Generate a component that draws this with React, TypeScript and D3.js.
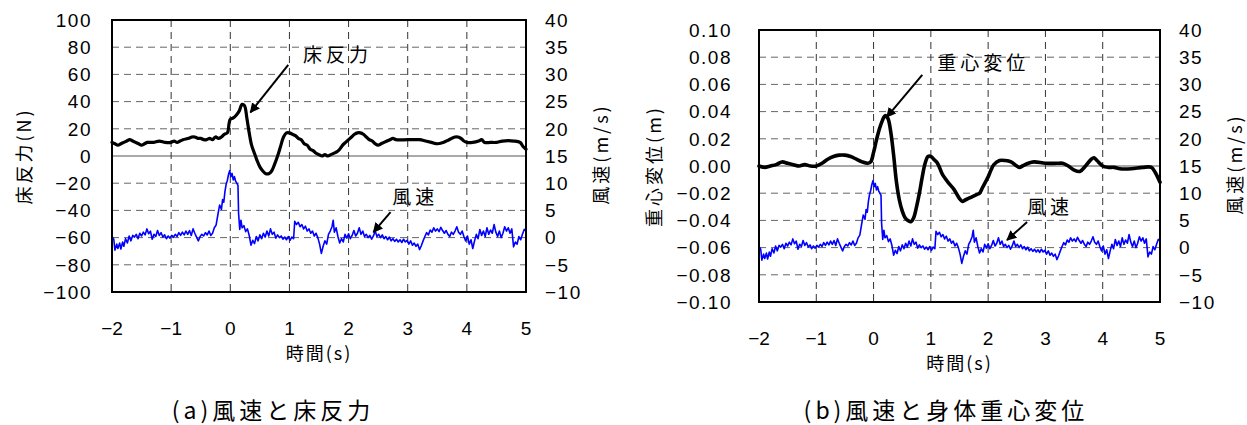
import React from 'react'
import * as d3 from 'd3'

// time axis (s)
const timeTicks = [-2, -1, 0, 1, 2, 3, 4, 5]

// wind speed (m/s), same record used in both panels
const windSeries: [number, number][] = [
  [-2.0, 0.2], [-1.97, -0.3], [-1.95, -2.3], [-1.92, -1.2], [-1.9, -2.0], [-1.87, -1.0], [-1.85, -2.1],
  [-1.82, -0.8], [-1.8, -1.6], [-1.77, -0.2], [-1.74, -1.0], [-1.71, 0.3], [-1.68, -0.6], [-1.65, 0.4],
  [-1.62, 0.1], [-1.59, 0.6], [-1.56, -0.2], [-1.53, 0.8], [-1.5, 0.3], [-1.47, 1.0], [-1.44, 0.5],
  [-1.41, 1.6], [-1.38, 0.7], [-1.35, 1.2], [-1.32, -0.3], [-1.29, 0.6], [-1.26, 0.2], [-1.23, 1.3],
  [-1.2, 0.4], [-1.17, 0.9], [-1.14, 0.1], [-1.11, 0.5], [-1.08, -0.2], [-1.05, 0.3], [-1.02, -0.1],
  [-0.99, 0.4], [-0.96, 0.1], [-0.93, 0.6], [-0.9, 0.2], [-0.87, 0.9], [-0.84, 0.4], [-0.81, 1.0],
  [-0.78, 0.5], [-0.75, 1.2], [-0.72, 0.6], [-0.69, 1.3], [-0.66, 0.4], [-0.63, 1.6], [-0.6, 0.8],
  [-0.57, 0.1], [-0.54, -0.6], [-0.51, 0.2], [-0.48, 0.6], [-0.45, 0.3], [-0.42, 0.9], [-0.39, 0.5],
  [-0.36, 1.2], [-0.33, 0.4], [-0.3, 0.8], [-0.27, 1.8], [-0.24, 2.3], [-0.21, 4.2], [-0.18, 6.0],
  [-0.15, 5.2], [-0.13, 7.0], [-0.11, 6.5], [-0.09, 8.5], [-0.07, 9.8], [-0.05, 10.5], [-0.03, 11.6],
  [-0.01, 12.3], [0.01, 11.2], [0.03, 11.8], [0.05, 10.6], [0.07, 11.2], [0.09, 10.4], [0.11, 10.0],
  [0.13, 9.6], [0.14, 4.5], [0.16, 1.5], [0.18, 3.2], [0.2, 1.8], [0.23, 2.2], [0.26, 1.1], [0.29, 1.6],
  [0.32, 0.4], [0.35, -1.4], [0.38, -0.5], [0.41, -1.1], [0.44, 0.2], [0.47, -0.6], [0.5, 0.5],
  [0.53, -0.2], [0.56, 0.8], [0.59, 0.1], [0.62, 1.2], [0.65, 0.3], [0.68, 1.6], [0.71, 0.6], [0.74, 1.0],
  [0.77, -0.1], [0.8, 0.5], [0.83, 0.0], [0.86, 0.3], [0.89, -0.3], [0.92, 0.1], [0.95, -0.4], [0.98, 0.2],
  [1.01, -0.5], [1.04, 0.1], [1.07, -0.2], [1.09, 3.0], [1.12, 2.4], [1.15, 2.8], [1.18, 2.0], [1.21, 2.4],
  [1.24, 1.6], [1.27, 2.1], [1.3, 1.2], [1.33, 1.6], [1.36, 0.8], [1.39, 1.2], [1.42, 0.3], [1.45, 0.8],
  [1.48, 0.0], [1.51, -1.2], [1.54, -2.9], [1.57, -1.6], [1.6, -0.6], [1.63, -1.2], [1.66, 0.6], [1.69, 1.2],
  [1.72, 2.0], [1.74, 3.2], [1.76, 1.0], [1.79, 1.8], [1.82, 0.2], [1.85, -1.0], [1.88, -0.2], [1.91, -0.8],
  [1.94, 0.6], [1.97, -0.1], [2.0, 0.7], [2.03, -0.2], [2.06, 0.4], [2.09, 1.3], [2.12, 0.3], [2.15, 0.8],
  [2.18, 1.8], [2.21, 0.6], [2.24, 1.2], [2.27, 0.2], [2.3, 0.6], [2.33, 0.0], [2.36, 0.4], [2.39, -0.3],
  [2.42, 0.3], [2.45, 1.2], [2.48, 0.2], [2.51, 0.6], [2.54, 0.0], [2.57, 0.5], [2.6, -0.2], [2.63, 0.2],
  [2.66, -0.4], [2.69, 0.1], [2.72, -0.6], [2.75, -0.2], [2.78, -0.7], [2.81, -0.3], [2.84, -0.8],
  [2.87, -0.4], [2.9, -0.9], [2.93, -0.3], [2.96, -0.8], [2.99, -0.5], [3.02, -1.2], [3.05, -0.6],
  [3.08, -1.4], [3.11, -1.0], [3.14, -1.6], [3.17, -1.2], [3.2, -2.2], [3.23, -1.5], [3.26, -0.6],
  [3.29, 0.2], [3.32, 0.9], [3.35, 0.5], [3.38, 1.4], [3.41, 1.0], [3.44, 1.8], [3.47, 1.2], [3.5, 1.6],
  [3.53, 1.1], [3.56, 1.9], [3.59, 1.3], [3.62, 0.8], [3.65, 1.3], [3.68, 0.6], [3.71, 0.2], [3.74, 1.0],
  [3.77, 0.6], [3.8, 1.2], [3.83, 2.0], [3.86, 1.0], [3.89, 0.6], [3.92, 1.2], [3.95, 0.2], [3.98, -0.6],
  [4.01, 0.3], [4.04, -1.2], [4.07, -0.4], [4.1, -2.0], [4.13, -0.6], [4.16, 0.6], [4.19, -0.2],
  [4.22, 1.5], [4.25, 0.4], [4.28, 1.2], [4.31, 0.2], [4.34, 1.8], [4.37, 0.6], [4.4, 1.4], [4.43, 0.8],
  [4.46, 2.4], [4.49, 1.0], [4.52, 0.2], [4.55, 1.2], [4.58, 0.0], [4.61, 0.8], [4.64, 2.0], [4.67, 1.2],
  [4.7, 1.8], [4.73, 0.8], [4.76, 1.6], [4.79, -1.7], [4.82, -0.8], [4.85, -1.2], [4.88, 0.2],
  [4.91, -0.4], [4.94, 0.6], [4.97, 1.5], [5.0, 1.3],
]

// floor reaction force (N)
const forceSeries: [number, number][] = [
  [-2.0, 10], [-1.95, 9], [-1.9, 8], [-1.85, 9], [-1.8, 10], [-1.75, 11], [-1.7, 12], [-1.65, 11],
  [-1.6, 10], [-1.55, 9], [-1.5, 8], [-1.45, 9], [-1.4, 10], [-1.3, 10], [-1.2, 11], [-1.1, 10],
  [-1.0, 10], [-0.95, 11], [-0.9, 10], [-0.85, 11], [-0.8, 12], [-0.7, 13], [-0.65, 14], [-0.6, 14],
  [-0.55, 13], [-0.5, 13], [-0.45, 12], [-0.4, 12], [-0.35, 13], [-0.3, 12], [-0.25, 14], [-0.2, 13],
  [-0.15, 14], [-0.1, 16], [-0.05, 17], [-0.02, 24], [0.0, 27], [0.05, 28], [0.1, 30], [0.15, 33],
  [0.2, 38], [0.24, 37], [0.28, 28], [0.32, 17], [0.36, 8], [0.4, 3], [0.45, -3], [0.5, -8],
  [0.55, -11], [0.6, -13], [0.65, -13], [0.7, -11], [0.75, -6], [0.8, 0], [0.85, 7], [0.9, 14],
  [0.95, 17], [1.0, 17], [1.05, 16], [1.1, 15], [1.15, 13], [1.2, 12], [1.25, 9], [1.3, 8], [1.35, 5],
  [1.4, 4], [1.45, 2], [1.5, 1], [1.55, 0], [1.6, 1], [1.65, 0], [1.7, 1], [1.75, 2], [1.8, 3],
  [1.85, 5], [1.9, 8], [1.95, 10], [2.0, 12], [2.05, 14], [2.1, 16], [2.15, 17], [2.2, 17], [2.25, 16],
  [2.3, 14], [2.35, 12], [2.4, 11], [2.45, 9], [2.5, 8], [2.55, 9], [2.6, 10], [2.7, 12], [2.75, 13],
  [2.8, 12], [3.0, 12], [3.2, 12], [3.3, 11], [3.4, 10], [3.5, 9], [3.6, 10], [3.7, 12], [3.8, 14],
  [3.85, 14], [3.9, 13], [3.95, 11], [4.0, 10], [4.1, 10], [4.2, 11], [4.25, 12], [4.3, 10], [4.4, 10],
  [4.5, 10], [4.6, 11], [4.8, 11], [4.9, 10], [4.95, 7], [5.0, 5],
]

// body centre-of-gravity displacement (m)
const cogSeries: [number, number][] = [
  [-2.0, 0.0], [-1.9, -0.001], [-1.8, 0.0], [-1.7, 0.001], [-1.6, 0.003], [-1.5, 0.002], [-1.4, 0.001],
  [-1.3, 0.0], [-1.2, 0.001], [-1.1, 0.0], [-1.0, 0.0], [-0.9, 0.002], [-0.8, 0.005], [-0.7, 0.007],
  [-0.6, 0.008], [-0.5, 0.008], [-0.4, 0.007], [-0.3, 0.005], [-0.2, 0.003], [-0.1, 0.002],
  [-0.05, 0.003], [0.0, 0.01], [0.05, 0.019], [0.1, 0.027], [0.15, 0.033], [0.2, 0.037], [0.25, 0.035],
  [0.3, 0.025], [0.35, 0.008], [0.4, -0.012], [0.45, -0.025], [0.5, -0.033], [0.55, -0.038],
  [0.6, -0.04], [0.65, -0.041], [0.7, -0.038], [0.75, -0.03], [0.8, -0.02], [0.85, -0.008],
  [0.9, 0.002], [0.95, 0.007], [1.0, 0.007], [1.05, 0.005], [1.1, 0.003], [1.15, -0.001], [1.2, -0.006],
  [1.3, -0.012], [1.4, -0.017], [1.5, -0.024], [1.55, -0.026], [1.6, -0.025], [1.7, -0.023],
  [1.8, -0.021], [1.85, -0.02], [1.9, -0.016], [1.95, -0.012], [2.0, -0.008], [2.05, -0.003],
  [2.1, 0.001], [2.2, 0.004], [2.3, 0.004], [2.4, 0.003], [2.5, 0.0], [2.55, -0.001], [2.6, 0.0],
  [2.7, 0.002], [2.8, 0.003], [3.0, 0.002], [3.2, 0.002], [3.3, 0.002], [3.4, 0.0], [3.5, -0.003],
  [3.6, -0.004], [3.7, 0.0], [3.8, 0.005], [3.85, 0.006], [3.9, 0.004], [4.0, 0.0], [4.1, -0.001],
  [4.2, -0.001], [4.3, -0.002], [4.5, -0.002], [4.7, -0.001], [4.85, -0.001], [4.92, -0.005],
  [5.0, -0.012],
]

const forceTicks = [-100, -80, -60, -40, -20, 0, 20, 40, 60, 80, 100]
const cogTicks = [-0.1, -0.08, -0.06, -0.04, -0.02, 0, 0.02, 0.04, 0.06, 0.08, 0.1]
const windTicks = [-10, -5, 0, 5, 10, 15, 20, 25, 30, 35, 40]

const FONT = '"Liberation Sans", "Noto Sans CJK JP", sans-serif'
const JP = '"Noto Sans CJK JP", "Liberation Sans", sans-serif'

type Note = { label: string; at: [number, number]; from: [number, number]; to: [number, number]; wind?: boolean }

type PanelProps = {
  id: string
  box: { left: number; right: number; top: number; bottom: number }
  series: [number, number][]
  leftTicks: number[]
  leftFormat: (v: number) => string
  leftTitle: string
  tickGap: number
  titleGap: number
  caption: string
  captionX: number
  notes: Note[]
  lineWidth: number
}

function Panel(props: PanelProps) {
  const { id, box, series, leftTicks, leftFormat, leftTitle, tickGap, titleGap, caption, captionX, notes, lineWidth } = props
  const x = d3.scaleLinear().domain([-2, 5]).range([box.left, box.right])
  const y = d3.scaleLinear().domain(d3.extent(leftTicks) as [number, number]).range([box.bottom, box.top])
  const yw = d3.scaleLinear().domain([-10, 40]).range([box.bottom, box.top])

  const mainLine = d3.line<[number, number]>().x(d => x(d[0])).y(d => y(d[1])).curve(d3.curveCatmullRom)
  const windLine = d3.line<[number, number]>().x(d => x(d[0])).y(d => yw(d[1]))

  const midY = (box.top + box.bottom) / 2
  const midX = (box.left + box.right) / 2

  return (
    <g>
      {/* grid */}
      {leftTicks.slice(1, -1).map(t => (
        <line key={'h' + t} x1={box.left} x2={box.right} y1={y(t)} y2={y(t)}
          stroke={t === 0 ? '#555' : '#666'} strokeWidth={1}
          strokeDasharray={t === 0 ? undefined : '7,5'} />
      ))}
      {timeTicks.slice(1, -1).map(t => (
        <line key={'v' + t} x1={x(t)} x2={x(t)} y1={box.top} y2={box.bottom}
          stroke="#333" strokeWidth={1} strokeDasharray="7,5" />
      ))}

      <path d={windLine(windSeries) ?? ''} fill="none" stroke="#0000ff" strokeWidth={1.6} strokeLinejoin="round" />
      <path d={mainLine(series) ?? ''} fill="none" stroke="#000" strokeWidth={lineWidth} strokeLinejoin="round" strokeLinecap="round" />

      <rect x={box.left} y={box.top} width={box.right - box.left} height={box.bottom - box.top}
        fill="none" stroke="#000" strokeWidth={2} />

      {/* tick labels */}
      {leftTicks.map(t => (
        <text key={'l' + t} x={box.left - tickGap} y={y(t)} dy="0.36em" textAnchor="end"
          fontFamily={FONT} fontSize={19} letterSpacing={1.5}>{leftFormat(t)}</text>
      ))}
      {windTicks.map(t => (
        <text key={'r' + t} x={box.right + 19} y={yw(t)} dy="0.36em" textAnchor="start"
          fontFamily={FONT} fontSize={19} letterSpacing={1.5}>{d3.format('d')(t)}</text>
      ))}
      {timeTicks.map(t => (
        <text key={'x' + t} x={x(t)} y={box.bottom + 43} textAnchor="middle"
          fontFamily={FONT} fontSize={19}>{d3.format('d')(t)}</text>
      ))}

      {/* titles */}
      <text transform={`translate(${box.left - titleGap},${midY}) rotate(-90)`} textAnchor="middle" dy="0.36em"
        fontFamily={JP} fontSize={18} letterSpacing={3}>{leftTitle}</text>
      <text transform={`translate(${box.right + 76},${midY - 2}) rotate(-90)`} textAnchor="middle" dy="0.36em"
        fontFamily={JP} fontSize={18} letterSpacing={3}>風速(m/s)</text>
      <text x={midX} y={box.bottom + 68} textAnchor="middle" fontFamily={JP} fontSize={18} letterSpacing={2}>時間(s)</text>
      <text x={captionX} y={419} textAnchor="middle" fontFamily={JP} fontSize={23} letterSpacing={4}>{caption}</text>

      {/* annotations */}
      {notes.map(n => {
        const sy = n.wind ? yw : y
        return (
          <g key={n.label}>
            <text x={x(n.at[0])} y={sy(n.at[1])} dy="0.36em" fontFamily={JP} fontSize={19} letterSpacing={4}>{n.label}</text>
            <line x1={x(n.from[0])} y1={sy(n.from[1])} x2={x(n.to[0])} y2={sy(n.to[1])}
              stroke="#000" strokeWidth={2} markerEnd={`url(#arrow-${id})`} />
          </g>
        )
      })}
      <defs>
        <marker id={`arrow-${id}`} viewBox="0 0 10 10" refX={9} refY={5} markerWidth={5} markerHeight={5}
          orient="auto" markerUnits="strokeWidth">
          <path d="M0,0 L10,5 L0,10 z" fill="#000" />
        </marker>
      </defs>
    </g>
  )
}

export default function App() {
  return (
    <svg width={1247} height={425} style={{ position: 'absolute', left: 0, top: 0, background: '#fff' }}>
      <Panel
        id="a"
        box={{ left: 112, right: 526, top: 20, bottom: 292 }}
        series={forceSeries}
        leftTicks={forceTicks}
        leftFormat={d3.format('d')}
        leftTitle="床反力(N)"
        tickGap={20}
        titleGap={87}
        caption="(a)風速と床反力"
        captionX={273}
        lineWidth={3.2}
        notes={[
          { label: '床反力', at: [1.23, 74], from: [0.98, 67], to: [0.34, 32] },
          { label: '風速', at: [2.74, 7.5], from: [2.71, 4.7], to: [2.42, 1.0], wind: true },
        ]}
      />
      <Panel
        id="b"
        box={{ left: 759, right: 1160, top: 30, bottom: 302 }}
        series={cogSeries}
        leftTicks={cogTicks}
        leftFormat={d3.format('.2f')}
        leftTitle="重心変位(m)"
        tickGap={27}
        titleGap={104}
        caption="(b)風速と身体重心変位"
        captionX={946}
        lineWidth={3.6}
        notes={[
          { label: '重心変位', at: [1.11, 0.0757], from: [0.85, 0.067], to: [0.23, 0.036] },
          { label: '風速', at: [2.68, 7.5], from: [2.68, 4.7], to: [2.33, 1.4], wind: true },
        ]}
      />
    </svg>
  )
}
